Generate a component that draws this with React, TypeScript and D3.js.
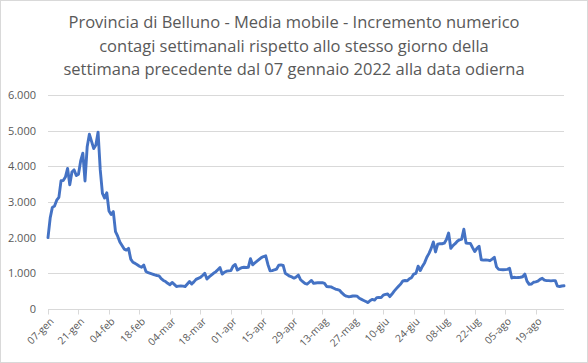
import React, { useEffect, useRef } from "react";
import * as d3 from "d3";

const WIDTH = 588;
const HEIGHT = 363;

const TITLE_LINES = [
  "Provincia di Belluno - Media mobile - Incremento numerico",
  "contagi settimanali rispetto allo stesso giorno della",
  "settimana precedente dal 07 gennaio 2022 alla data odierna",
];

const MONTHS_IT = ["gen", "feb", "mar", "apr", "mag", "giu", "lug", "ago", "set", "ott", "nov", "dic"];

// first day of the series
const START_DATE = new Date(2022, 0, 7);
const TICK_EVERY = 14;
const Y_TICKS = [0, 1000, 2000, 3000, 4000, 5000, 6000];

// 7-day moving average, one value per day from 07-gen
const VALUES = [
  2000, 2550, 2850, 2890, 3050, 3130, 3600, 3600, 3700, 3940,
  3480, 3840, 3900, 3740, 3780, 4150, 4370, 3590, 4550, 4900,
  4700, 4500, 4600, 4960, 3900, 3240, 3110, 3260, 2750, 2650,
  2730, 2170, 2040, 1880, 1780, 1680, 1650, 1700, 1400, 1310,
  1280, 1240, 1200, 1170, 1230, 1050, 1020, 1000, 980, 955,
  940, 930, 850, 800, 770, 720, 680, 745, 690, 630,
  640, 645, 640, 630, 700, 770, 700, 760, 830, 860,
  885, 940, 1000, 840, 900, 950, 1000, 1040, 1100, 1160,
  980, 1030, 1060, 1070, 1075, 1200, 1250, 1090, 1130, 1160,
  1170, 1165, 1170, 1410, 1240, 1290, 1340, 1390, 1440, 1470,
  1490, 1250, 1070, 1075, 1100, 1120, 1230, 1235, 1220, 1000,
  960, 920, 900, 865, 900, 950, 820, 770, 720, 700,
  750, 800, 720, 730, 740, 735, 740, 720, 630, 625,
  620, 590, 560, 540, 520, 450, 395, 360, 345, 350,
  365, 365, 360, 300, 270, 240, 210, 180, 240, 270,
  250, 320, 325, 320, 390, 410, 420, 345, 420, 500,
  570, 640, 700, 790, 800, 790, 850, 880, 980, 1000,
  1200, 1080, 1200, 1300, 1450, 1560, 1700, 1880, 1600, 1820,
  1830, 1830, 1845, 1950, 2130, 1700, 1780, 1830, 1900, 1940,
  1960, 2235, 1850, 1840, 1840, 1720, 1610, 1700, 1760, 1380,
  1370, 1375, 1370, 1355, 1400, 1450, 1180, 1110, 1105, 1100,
  1105, 1110, 1140, 870, 890, 880, 885, 890, 905, 980,
  780, 690, 700, 750, 760, 780, 830, 860, 810, 795,
  795, 790, 795, 795, 640, 630, 645, 650,
];

const DATES = VALUES.map((_, i) => d3.timeDay.offset(START_DATE, i));

const TEXT_COLOR = "#595959";
const GRID_COLOR = "#d9d9d9";
const LINE_COLOR = "#4472c4";
const FONT = "'Open Sans', 'Noto Sans', Arial, sans-serif";

const margin = { top: 95, right: 24, bottom: 54, left: 48 };

function formatThousands(v: number): string {
  return d3.format(",")(v).replace(/,/g, ".");
}

function formatDay(d: Date): string {
  return `${d3.timeFormat("%d")(d)}-${MONTHS_IT[d.getMonth()]}`;
}

export default function App() {
  const svgRef = useRef<SVGSVGElement>(null);

  useEffect(() => {
    if (!svgRef.current) return;
    const svg = d3.select(svgRef.current);
    svg.selectAll("*").remove();

    // chart area border
    svg
      .append("rect")
      .attr("x", 0.5)
      .attr("y", 0.5)
      .attr("width", WIDTH - 1)
      .attr("height", HEIGHT - 1)
      .attr("fill", "#fff")
      .attr("stroke", GRID_COLOR);

    // title
    svg
      .append("g")
      .selectAll("text")
      .data(TITLE_LINES)
      .enter()
      .append("text")
      .attr("x", WIDTH / 2)
      .attr("y", (_, i) => 28 + i * 23.5)
      .attr("text-anchor", "middle")
      .attr("font-family", FONT)
      .attr("font-size", 16.5)
      .attr("fill", TEXT_COLOR)
      .text((d) => d);

    const x = d3
      .scaleTime()
      .domain([DATES[0], DATES[DATES.length - 1]])
      .range([margin.left, WIDTH - margin.right]);

    const y = d3
      .scaleLinear()
      .domain([0, 6000])
      .range([HEIGHT - margin.bottom, margin.top]);

    // horizontal gridlines
    svg
      .append("g")
      .selectAll("line")
      .data(Y_TICKS.filter((t) => t > 0))
      .enter()
      .append("line")
      .attr("x1", margin.left)
      .attr("x2", WIDTH - margin.right)
      .attr("y1", (d) => Math.round(y(d)) + 0.5)
      .attr("y2", (d) => Math.round(y(d)) + 0.5)
      .attr("stroke", GRID_COLOR)
      .attr("stroke-width", 1);

    // y labels
    svg
      .append("g")
      .selectAll("text")
      .data(Y_TICKS)
      .enter()
      .append("text")
      .attr("x", 36)
      .attr("y", (d) => y(d))
      .attr("dy", "0.35em")
      .attr("text-anchor", "end")
      .attr("font-family", FONT)
      .attr("font-size", 11)
      .attr("fill", TEXT_COLOR)
      .text((d) => formatThousands(d));

    // x axis line and ticks
    const axisY = Math.round(y(0)) + 0.5;
    svg
      .append("line")
      .attr("x1", margin.left)
      .attr("x2", WIDTH - margin.right)
      .attr("y1", axisY)
      .attr("y2", axisY)
      .attr("stroke", GRID_COLOR);

    const tickDates = DATES.filter((_, i) => i % TICK_EVERY === 0);

    svg
      .append("g")
      .selectAll("line")
      .data(tickDates)
      .enter()
      .append("line")
      .attr("x1", (d) => Math.round(x(d)) + 0.5)
      .attr("x2", (d) => Math.round(x(d)) + 0.5)
      .attr("y1", axisY)
      .attr("y2", axisY + 5)
      .attr("stroke", GRID_COLOR);

    svg
      .append("g")
      .selectAll("text")
      .data(tickDates)
      .enter()
      .append("text")
      .attr("transform", (d) => `translate(${x(d) + 4},${axisY + 10}) rotate(-45)`)
      .attr("text-anchor", "end")
      .attr("dy", "0.35em")
      .attr("font-family", FONT)
      .attr("font-size", 10.2)
      .attr("fill", TEXT_COLOR)
      .text((d) => formatDay(d));

    // series line
    const line = d3
      .line<number>()
      .x((_, i) => x(DATES[i]))
      .y((d) => y(d));

    svg
      .append("path")
      .datum(VALUES)
      .attr("d", line)
      .attr("fill", "none")
      .attr("stroke", LINE_COLOR)
      .attr("stroke-width", 2.9)
      .attr("stroke-linejoin", "round")
      .attr("stroke-linecap", "round");
  }, []);

  return (
    <svg
      ref={svgRef}
      width={WIDTH}
      height={HEIGHT}
      style={{ position: "absolute", left: 0, top: 0 }}
    />
  );
}
